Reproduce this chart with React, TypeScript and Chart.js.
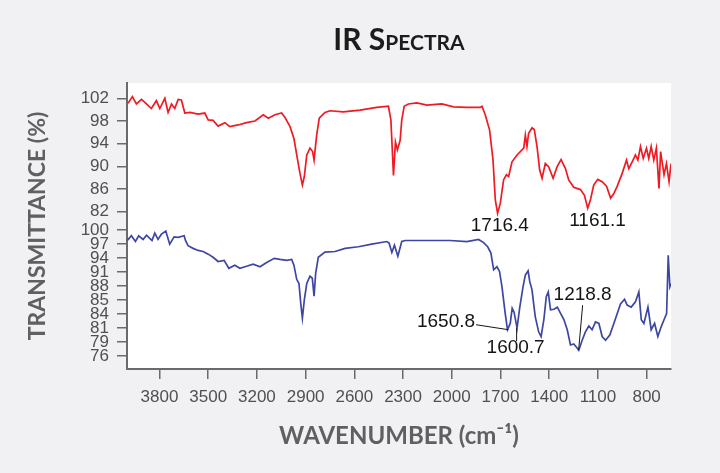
import React, { useEffect, useRef } from 'react';
import { Chart, registerables, ChartConfiguration, Plugin } from 'chart.js';

Chart.register(...registerables);

// x axis (wavenumber, cm-1), drawn right to left
const xTicks: number[] = [3800, 3500, 3200, 2900, 2600, 2300, 2000, 1700, 1400, 1100, 800];
// top panel (red) ticks
const redTicks: number[] = [102, 98, 94, 90, 86, 82];
// bottom panel (blue) tick labels, as printed on the original (evenly spaced)
const blueTickLabels: string[] = ['100', '97', '94', '91', '88', '85', '84', '81', '79', '76'];

const redWavenumbers: number[] = [
  3994, 3967, 3942, 3911, 3880, 3850, 3819, 3798, 3767, 3747, 3726, 3706, 3685, 3665, 3644, 3613,
  3562, 3521, 3500, 3470, 3439, 3397, 3367, 3315, 3264, 3212, 3161, 3130, 3089, 3048, 3027, 2996,
  2972, 2951, 2935, 2920, 2908, 2893, 2873, 2857, 2848, 2832, 2816, 2781, 2750, 2668, 2565, 2462,
  2390, 2375, 2359, 2347, 2335, 2318, 2308, 2293, 2267, 2215, 2153, 2061, 1989, 1907, 1825, 1814,
  1794, 1767, 1746, 1732, 1718, 1701, 1681, 1664, 1650, 1629, 1598, 1557, 1547, 1537, 1527, 1506,
  1492, 1475, 1459, 1444, 1424, 1403, 1376, 1352, 1327, 1300, 1280, 1249, 1208, 1183, 1163, 1146,
  1126, 1101, 1074, 1047, 1022, 1002, 981, 950, 924, 910, 889, 869, 854, 838, 821, 801,
  787, 772, 756, 740, 724, 714, 693, 678, 662, 650,
];
const redValues: number[] = [
  101.1, 102.3, 101.0, 101.8, 101.0, 100.2, 101.6, 100.2, 102.0, 99.5, 101.0, 100.2, 101.8, 101.7, 99.4, 99.5,
  99.2, 99.4, 98.2, 98.1, 97.1, 97.7, 97.0, 97.3, 97.7, 98.0, 99.1, 98.5, 99.1, 99.4, 98.6, 97.0,
  94.9, 91.4, 88.8, 86.7, 88.2, 92.0, 93.2, 92.6, 91.1, 95.5, 98.5, 99.5, 99.8, 99.6, 99.9, 100.4,
  100.6, 98.2, 88.4, 94.3, 92.9, 94.6, 98.2, 100.6, 101.0, 101.2, 100.8, 101.0, 100.5, 100.4, 100.4, 100.6,
  99.1, 96.4, 91.1, 84.1, 81.7, 83.5, 87.6, 88.5, 88.2, 90.8, 92.0, 93.2, 95.5, 93.5, 95.8, 96.8,
  96.5, 93.5, 89.4, 87.9, 90.5, 89.9, 87.9, 89.9, 91.2, 89.6, 87.6, 86.3, 85.9, 84.9, 82.6, 84.1,
  86.7, 87.7, 87.3, 86.5, 84.4, 85.2, 86.5, 88.8, 91.1, 89.6, 90.8, 92.0, 91.1, 93.5, 91.4, 93.2,
  91.4, 93.5, 91.1, 93.2, 86.1, 92.6, 88.5, 90.5, 87.3, 90.5,
];

const blueWavenumbers: number[] = [
  3998, 3973, 3948, 3928, 3901, 3880, 3860, 3846, 3829, 3809, 3788, 3761, 3737, 3710, 3685, 3648,
  3640, 3624, 3593, 3562, 3531, 3500, 3470, 3439, 3402, 3373, 3336, 3305, 3264, 3223, 3181, 3140,
  3093, 3058, 3017, 2986, 2972, 2955, 2941, 2930, 2920, 2908, 2893, 2873, 2859, 2848, 2838, 2822,
  2781, 2719, 2657, 2575, 2493, 2400, 2386, 2369, 2353, 2332, 2308, 2287, 2194, 2112, 2010, 1907,
  1835, 1804, 1779, 1759, 1742, 1722, 1706, 1691, 1671, 1657, 1640, 1628, 1616, 1598, 1582, 1561,
  1547, 1530, 1520, 1506, 1486, 1465, 1450, 1433, 1418, 1406, 1392, 1371, 1350, 1330, 1309, 1289,
  1269, 1249, 1233, 1218, 1197, 1177, 1156, 1136, 1115, 1094, 1074, 1053, 1027, 1002, 981, 961,
  936, 920, 895, 869, 848, 833, 817, 792, 772, 751, 731, 710, 693, 677, 667, 657, 650,
];
const blueValues: number[] = [
  98.0, 98.9, 97.8, 98.9, 98.2, 99.0, 98.4, 98.0, 99.4, 98.2, 99.2, 99.8, 97.3, 98.7, 98.6, 98.9,
  98.0, 97.0, 96.5, 96.1, 95.9, 95.4, 94.8, 94.0, 94.2, 92.7, 93.3, 92.7, 93.1, 93.5, 93.0, 93.8,
  94.6, 94.4, 94.2, 94.4, 93.3, 90.6, 89.8, 86.0, 83.2, 86.7, 89.8, 91.2, 90.8, 87.4, 91.8, 94.8,
  95.8, 95.9, 96.5, 96.8, 97.3, 97.8, 97.5, 95.7, 97.1, 95.0, 97.8, 98.0, 98.0, 98.0, 98.0, 97.8,
  98.2, 97.6, 96.8, 95.6, 92.4, 93.0, 92.1, 89.2, 84.1, 81.0, 82.2, 85.1, 84.3, 81.3, 85.1, 89.2,
  91.4, 92.2, 90.2, 88.6, 83.5, 80.6, 79.7, 82.9, 87.3, 88.2, 84.8, 84.9, 85.3, 84.1, 82.9, 81.0,
  78.1, 78.3, 77.7, 77.1, 79.0, 80.6, 81.7, 81.0, 82.5, 82.2, 79.7, 79.0, 80.0, 82.2, 84.1, 85.9,
  86.8, 85.7, 85.3, 86.3, 88.2, 82.9, 82.2, 85.3, 81.0, 82.2, 79.7, 81.6, 82.9, 84.1, 95.2, 89.2, 89.8,
];

// peak annotations
const peakLabels: string[] = ['1716.4', '1161.1', '1650.8', '1600.7', '1218.8'];
const peakSeries: string[] = ['red', 'red', 'blue', 'blue', 'blue'];
const peakValues: number[] = [81.7, 82.6, 81.0, 81.3, 77.1];

// label placement relative to the peak (px) and leader style
const peakOffsets: [number, number][] = [[2, 12], [9.5, 12.5], [-62.5, -8], [-1, 20], [4, -55]];
const peakLeaders: string[] = ['none', 'none', 'right', 'top', 'bottom'];

const toPoints = (xs: number[], ys: number[]) => xs.map((x, i) => ({ x, y: ys[i] }));

const tickFont = { family: '"Liberation Sans", Arial, sans-serif', size: 17 };
const axisColor = '#6a6a6a';

const plotBackground: Plugin<'line'> = {
  id: 'plotBackground',
  beforeDraw(chart) {
    const { ctx, chartArea } = chart;
    ctx.save();
    ctx.fillStyle = '#ffffff';
    ctx.fillRect(chartArea.left, chartArea.top, chartArea.width, chartArea.height);
    ctx.restore();
  },
};

const yTitle: Plugin<'line'> = {
  id: 'yTitle',
  afterDraw(chart) {
    const { ctx, chartArea } = chart;
    ctx.save();
    ctx.translate(37.5, (chartArea.top + chartArea.bottom) / 2);
    ctx.rotate(-Math.PI / 2);
    ctx.font = '700 23px Lato';
    ctx.fillStyle = '#606060';
    ctx.textAlign = 'center';
    ctx.textBaseline = 'middle';
    ctx.fillText('TRANSMITTANCE (%)', 0, 0);
    ctx.restore();
  },
};

const peakNotes: Plugin<'line'> = {
  id: 'peakNotes',
  afterDatasetsDraw(chart) {
    const { ctx } = chart;
    const xs = chart.scales.x;
    ctx.save();
    ctx.font = '19px "Liberation Sans", Arial, sans-serif';
    ctx.fillStyle = '#151515';
    ctx.strokeStyle = '#151515';
    ctx.lineWidth = 1;
    ctx.textAlign = 'center';
    ctx.textBaseline = 'middle';
    peakLabels.forEach((label, i) => {
      const ys = chart.scales[peakSeries[i] === 'red' ? 'y' : 'y2'];
      const px = xs.getPixelForValue(parseFloat(label));
      const py = ys.getPixelForValue(peakValues[i]);
      const tx = px + peakOffsets[i][0];
      const ty = py + peakOffsets[i][1];
      const w = ctx.measureText(label).width;
      ctx.fillText(label, tx, ty);
      const leader = peakLeaders[i];
      if (leader === 'none') return;
      ctx.beginPath();
      if (leader === 'right') {
        ctx.moveTo(tx + w / 2 + 1, ty + 3);
      } else if (leader === 'top') {
        ctx.moveTo(px, ty - 7);
      } else {
        ctx.moveTo(tx, ty + 10);
      }
      ctx.lineTo(px, py);
      ctx.stroke();
    });
    ctx.restore();
  },
};

export default function App() {
  const canvasRef = useRef<HTMLCanvasElement | null>(null);

  useEffect(() => {
    if (!canvasRef.current) return;
    const ctx = canvasRef.current.getContext('2d');
    if (!ctx) return;

    const config: ChartConfiguration<'line'> = {
      type: 'line',
      data: {
        datasets: [
          {
            label: 'Top',
            data: toPoints(redWavenumbers, redValues),
            yAxisID: 'y',
            borderColor: '#ef1a22',
            borderWidth: 1.7,
            pointRadius: 0,
            tension: 0,
          },
          {
            label: 'Bottom',
            data: toPoints(blueWavenumbers, blueValues),
            yAxisID: 'y2',
            borderColor: '#3d47a3',
            borderWidth: 1.7,
            pointRadius: 0,
            tension: 0,
          },
        ],
      },
      options: {
        animation: false,
        responsive: true,
        maintainAspectRatio: false,
        layout: { padding: { top: 83, right: 49, bottom: 0, left: 0 } },
        plugins: { legend: { display: false }, tooltip: { enabled: false } },
        scales: {
          x: {
            type: 'linear',
            reverse: true,
            min: 650,
            max: 4000,
            afterBuildTicks: (scale) => {
              scale.ticks = xTicks.map((v) => ({ value: v }));
            },
            afterFit: (scale) => {
              scale.height = 104;
            },
            ticks: {
              autoSkip: false,
              maxRotation: 0,
              padding: 8,
              color: '#505050',
              font: tickFont,
              callback: (v) => String(v),
            },
            grid: { drawOnChartArea: false, tickLength: 10, color: axisColor, lineWidth: 1.5 },
            border: { display: true, color: axisColor, width: 2 },
            title: {
              display: true,
              text: 'WAVENUMBER (cm\u207B\u00B9)',
              color: '#606060',
              font: { family: 'Lato', weight: 'bold', size: 24 },
              padding: { top: 0, bottom: 22 },
            },
          },
          // stacked left axes are laid out in reverse order: the bottom panel comes first
          y2: {
            type: 'linear',
            position: 'left',
            stack: 'ir',
            stackWeight: 147,
            min: 73.52,
            max: 101.52,
            afterBuildTicks: (scale) => {
              scale.ticks = blueTickLabels.map((_, i) => ({ value: 100 - (i * 24) / 9 }));
            },
            afterFit: (scale) => {
              scale.width = 127;
            },
            ticks: {
              autoSkip: false,
              padding: 8,
              color: '#505050',
              font: tickFont,
              callback: (_v, i) => blueTickLabels[i],
            },
            grid: { drawOnChartArea: false, tickLength: 10, color: axisColor, lineWidth: 1.5 },
            border: { display: true, color: axisColor, width: 2 },
          },
          y: {
            type: 'linear',
            position: 'left',
            stack: 'ir',
            stackWeight: 139,
            min: 80.18,
            max: 104.7,
            afterBuildTicks: (scale) => {
              scale.ticks = redTicks.map((v) => ({ value: v }));
            },
            afterFit: (scale) => {
              scale.width = 127;
            },
            ticks: { autoSkip: false, padding: 8, color: '#505050', font: tickFont },
            grid: { drawOnChartArea: false, tickLength: 10, color: axisColor, lineWidth: 1.5 },
            border: { display: true, color: axisColor, width: 2 },
          },
        },
      },
      plugins: [plotBackground, yTitle, peakNotes],
    };

    const chart = new Chart(ctx, config);
    return () => {
      chart.destroy();
    };
  }, []);

  return (
    <div
      style={{
        position: 'absolute',
        left: 0,
        top: 0,
        width: 720,
        height: 473,
        background: '#f1f1f3',
        overflow: 'hidden',
      }}
    >
      <div style={{ position: 'absolute', left: 0, top: 0, width: 720, height: 473 }}>
        <canvas ref={canvasRef} />
      </div>
      <div
        style={{
          position: 'absolute',
          left: 127,
          width: 544,
          top: 23,
          textAlign: 'center',
          fontFamily: 'Lato',
          fontWeight: 700,
          fontSize: 30,
          lineHeight: '30px',
          fontVariant: 'small-caps',
          color: '#1c1c1c',
        }}
      >
        IR Spectra
      </div>
    </div>
  );
}
